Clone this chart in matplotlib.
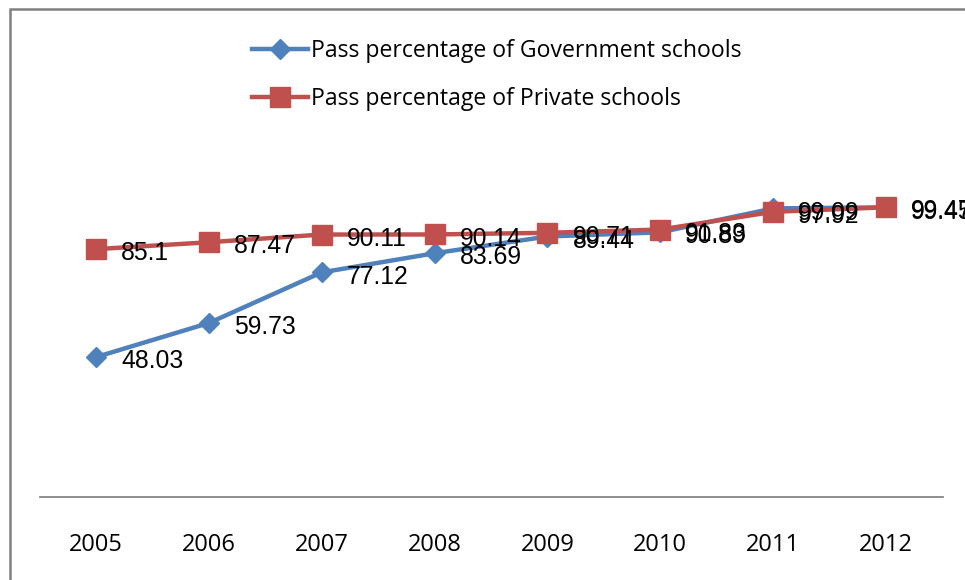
import matplotlib
matplotlib.use("Agg")
import matplotlib.pyplot as plt
from matplotlib.patches import Rectangle

# Data
years = ["2005", "2006", "2007", "2008", "2009", "2010", "2011", "2012"]
govt_pass = [48.03, 59.73, 77.12, 83.69, 89.44, 90.89, 99.09, 99.45]
private_pass = [85.1, 87.47, 90.11, 90.14, 90.71, 91.83, 97.92, 99.47]
series_names = ["Pass percentage of Government schools",
                "Pass percentage of Private schools"]

COL_BLUE = "#4F81BD"
COL_RED = "#C0504D"
COL_AXIS = "#868686"
LABEL_FONT = "Liberation Sans"
TEXT_FONT = "Open Sans"

W, H = 965, 580
fig = plt.figure(figsize=(W / 100, H / 100), dpi=100)

# plot area placed in pixel terms, converted to figure fractions
left, right = 39.5, 942.5
bottom_px, top_px = 497, 31
ax = fig.add_axes([left / W, (H - bottom_px) / H,
                   (right - left) / W, (bottom_px - top_px) / H])
x = list(range(len(years)))

ax.plot(x, govt_pass, color=COL_BLUE, lw=3.2, marker="D", ms=10,
        mec=COL_BLUE, mfc=COL_BLUE, label=series_names[0], zorder=3)
ax.plot(x, private_pass, color=COL_RED, lw=3.2, marker="s", ms=14,
        mec=COL_RED, mfc=COL_RED, label=series_names[1], zorder=4)

# data labels sit to the right of each point, as in the original
for series in (govt_pass, private_pass):
    for xi, v in zip(x, series):
        ax.annotate(f"{v:g}", (xi, v), xytext=(18, -3), textcoords="offset points",
                    ha="left", va="center", fontsize=17.8, family=LABEL_FONT,
                    color="#000000", zorder=5)

ax.set_xlim(-0.5, len(years) - 0.5)
ax.set_ylim(0, 160)
ax.set_xticks(x)
ax.set_xticklabels(years, fontsize=17, family=TEXT_FONT)
ax.tick_params(axis="x", length=0, pad=26)
ax.set_yticks([])
for side in ["top", "right", "left"]:
    ax.spines[side].set_visible(False)
ax.spines["bottom"].set_color(COL_AXIS)
ax.spines["bottom"].set_linewidth(1.3)
ax.patch.set_alpha(0)

fig.legend(loc="upper left", bbox_to_anchor=(243 / W, 1 - 30 / H),
           frameon=False, prop={"family": TEXT_FONT, "size": 16.6},
           handlelength=2.4, handletextpad=0.15, labelspacing=1.05,
           borderaxespad=0)

# chart frame (only left and top edges fall inside the picture)
fig.patches.append(Rectangle((9.5 / W, -0.1), 1.2, 1.1 - 8.5 / H,
                             transform=fig.transFigure, fill=False,
                             edgecolor="#808080", lw=1.8))

fig.savefig("out.png", dpi=100, facecolor="white")
